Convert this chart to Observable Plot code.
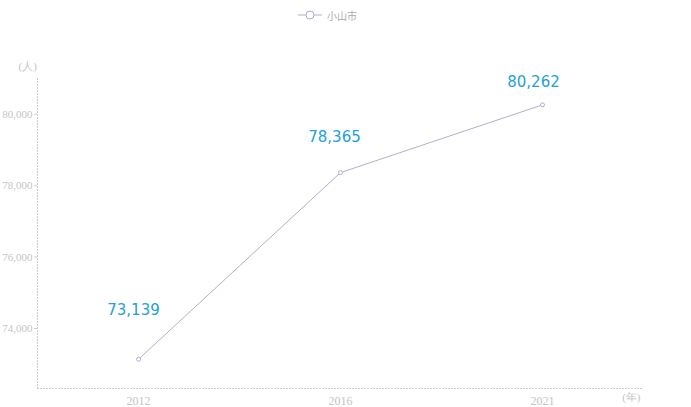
<!DOCTYPE html>
<html>
<head>
<meta charset="utf-8">
<script src="https://cdn.jsdelivr.net/npm/d3@7"></script>
<script src="https://cdn.jsdelivr.net/npm/@observablehq/plot@0.6"></script>
<style>
  body { margin: 0; background: #fff; }
  #legend { height: 30px; display: flex; align-items: center; justify-content: center;
            padding-right: 36px; font: 10px "Noto Sans CJK JP", sans-serif; color: #aaa; }
  #legend svg { margin-right: 5px; }
</style>
</head>
<body>
<div id="legend"></div>
<div id="chart"></div>
<script>
// Population of Oyama city by census year
const seriesName = "小山市";
const years = ["2012", "2016", "2021"];
const population = [73139, 78365, 80262];
const yTicks = [74000, 76000, 78000, 80000];

const lineColor = "#adb0d0";
const labelColor = "#24a0da";

const data = years.map((year, i) => ({ year, value: population[i] }));

// Legend: line with an open circle marker
document.getElementById("legend").innerHTML =
  `<svg width="24" height="10"><line x1="0" x2="24" y1="5" y2="5" stroke="${lineColor}"/>` +
  `<circle cx="12" cy="5" r="4" fill="#fff" stroke="${lineColor}"/></svg><span>${seriesName}</span>`;

// Per-label placement offsets above each point
const labelDx = [-5, -6, -9];
const labelDy = [-49, -35, -23];

const chart = Plot.plot({
  width: 691,
  height: 377,
  marginLeft: 37,
  marginRight: 48,
  marginTop: 48,
  marginBottom: 19,
  style: { fontFamily: "Liberation Serif, serif", fontSize: "11px", color: "#c4c4c4" },
  x: { type: "point", domain: years, padding: 0.5, label: null },
  y: { domain: [72320, 81000], label: null },
  marks: [
    Plot.frame({ anchor: "left", stroke: "#ccc", strokeDasharray: "1,2" }),
    Plot.frame({ anchor: "bottom", stroke: "#ccc", strokeDasharray: "1,2" }),
    Plot.axisY({ ticks: yTicks, tickFormat: d3.format(","), tickSize: 3, tickPadding: 2, stroke: "#ccc", fill: "#c4c4c4" }),
    Plot.axisX({ tickSize: 0, tickPadding: 8, fill: "#c4c4c4", fontSize: 12 }),
    Plot.text(["(人)"], { frameAnchor: "top-left", dx: -19, dy: -16, fill: "#c4c4c4" }),
    Plot.text(["(年)"], { frameAnchor: "bottom-right", dx: -3, dy: 12, fill: "#c4c4c4" }),
    Plot.line(data, { x: "year", y: "value", stroke: lineColor, strokeWidth: 1 }),
    Plot.dot(data, { x: "year", y: "value", r: 2, stroke: lineColor, fill: "#fff", strokeWidth: 1 }),
    ...data.map((d, i) => Plot.text([d], {
      x: "year", y: "value", text: (p) => d3.format(",")(p.value),
      dx: labelDx[i], dy: labelDy[i], fill: labelColor,
      fontSize: 15, fontFamily: "DejaVu Sans, sans-serif"
    }))
  ]
});
document.getElementById("chart").append(chart);
</script>
</body>
</html>
